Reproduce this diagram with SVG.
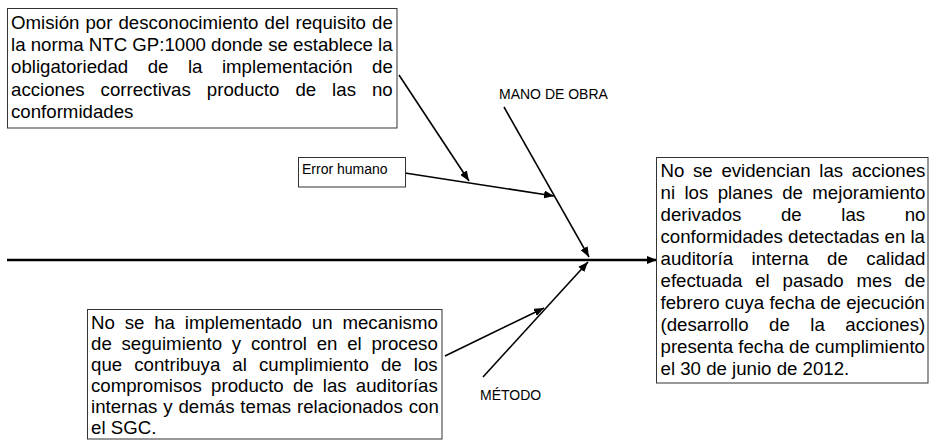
<svg xmlns="http://www.w3.org/2000/svg" width="930" height="446" viewBox="0 0 930 446">
<style>
  .box { fill: #ffffff; stroke: #333333; stroke-width: 1; }
  .body { font-family: "Liberation Sans", Arial, sans-serif; font-size: 18.67px; fill: #000000; }
  .lbl { font-family: "Liberation Sans", Arial, sans-serif; font-size: 14px; fill: #000000; }
  .bone { stroke: #000000; stroke-width: 1.6; fill: none; }
  .spine { stroke: #000000; stroke-width: 2.6; fill: none; }
</style>
<defs>
  <marker id="arr" markerUnits="userSpaceOnUse" markerWidth="11" markerHeight="8" refX="10" refY="4" orient="auto">
    <path d="M0,0 L10,4 L0,8 z" fill="#000000"/>
  </marker>
</defs>
<rect width="930" height="446" fill="#ffffff"/>

<g id="connectors">
  <line class="spine" x1="7" y1="260" x2="657" y2="260" marker-end="url(#arr)"/>
  <line class="bone" x1="504" y1="107" x2="589" y2="257" marker-end="url(#arr)"/>
  <line class="bone" x1="483" y1="377" x2="588" y2="262" marker-end="url(#arr)"/>
  <line class="bone" x1="399" y1="75" x2="469" y2="181" marker-end="url(#arr)"/>
  <line class="bone" x1="405" y1="173" x2="554" y2="196" marker-end="url(#arr)"/>
  <line class="bone" x1="445" y1="356" x2="544" y2="308" marker-end="url(#arr)"/>
</g>

<g id="node-omision">
  <rect class="box" x="7.5" y="8.5" width="389.5" height="119.5"/>
  <text class="body" x="11" y="29" style="word-spacing:0.86px">Omisión por desconocimiento del requisito de</text>
  <text class="body" x="11" y="51.2">la norma NTC GP:1000 donde se establece la</text>
  <text class="body" x="11" y="73.4" style="word-spacing:14.3px">obligatoriedad de la implementación de</text>
  <text class="body" x="11" y="95.6" style="word-spacing:10.8px">acciones correctivas producto de las no</text>
  <text class="body" x="11" y="117.8">conformidades</text>
</g>

<g id="node-error-humano">
  <rect class="box" x="298.5" y="157.5" width="107" height="29.5"/>
  <text class="lbl" x="302" y="174">Error humano</text>
</g>

<g id="node-mano-de-obra">
  <text class="lbl" x="499" y="99">MANO DE OBRA</text>
</g>

<g id="node-metodo">
  <text class="lbl" x="480" y="400">MÉTODO</text>
</g>

<g id="node-efecto">
  <rect class="box" x="656.5" y="157.5" width="271.5" height="225.5"/>
  <text class="body" x="660.5" y="177" style="word-spacing:3.48px">No se evidencian las acciones</text>
  <text class="body" x="660.5" y="199" style="word-spacing:4.25px">ni los planes de mejoramiento</text>
  <text class="body" x="660.5" y="221" style="word-spacing:34.4px">derivados de las no</text>
  <text class="body" x="660.5" y="243">conformidades detectadas en la</text>
  <text class="body" x="660.5" y="265" style="word-spacing:13.3px">auditoría interna de calidad</text>
  <text class="body" x="660.5" y="287" style="word-spacing:7.6px">efectuada el pasado mes de</text>
  <text class="body" x="660.5" y="309">febrero cuya fecha de ejecución</text>
  <text class="body" x="660.5" y="331" style="word-spacing:15.3px">(desarrollo de la acciones)</text>
  <text class="body" x="660.5" y="353">presenta fecha de cumplimiento</text>
  <text class="body" x="660.5" y="375">el 30 de junio de 2012.</text>
</g>

<g id="node-seguimiento">
  <rect class="box" x="87.5" y="309.5" width="354.5" height="129.5"/>
  <text class="body" x="91" y="329" style="word-spacing:4.65px">No se ha implementado un mecanismo</text>
  <text class="body" x="91" y="350" style="word-spacing:4.56px">de seguimiento y control en el proceso</text>
  <text class="body" x="91" y="371" style="word-spacing:6.9px">que contribuya al cumplimiento de los</text>
  <text class="body" x="91" y="392" style="word-spacing:4.0px">compromisos producto de las auditorías</text>
  <text class="body" x="91" y="413" style="word-spacing:0.7px">internas y demás temas relacionados con</text>
  <text class="body" x="91" y="434">el SGC.</text>
</g>
</svg>
